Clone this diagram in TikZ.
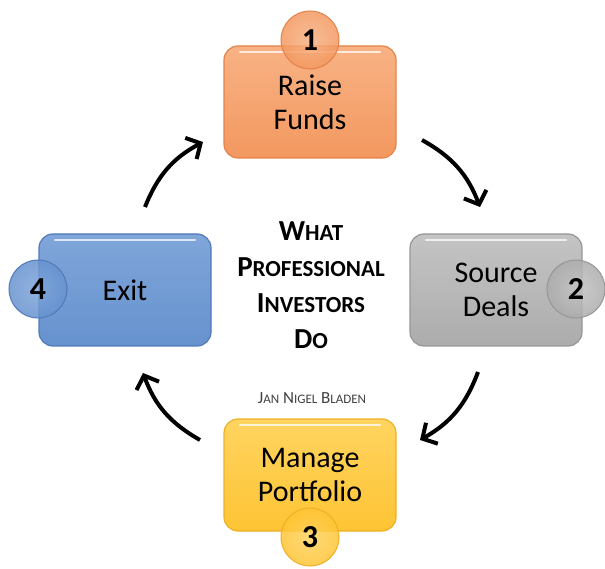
\documentclass[tikz,border=0pt]{standalone}
\usepackage{fontspec}
\setmainfont{Carlito}
\usetikzlibrary{arrows.meta}
\definecolor{orangebase}{RGB}{243,152,96}
\definecolor{orangelight}{RGB}{248,178,132}
\definecolor{orangedark}{RGB}{228,130,74}
\definecolor{graybase}{RGB}{172,172,172}
\definecolor{graylight}{RGB}{196,196,196}
\definecolor{graydark}{RGB}{150,150,150}
\definecolor{bluebase}{RGB}{102,146,206}
\definecolor{bluelight}{RGB}{128,166,218}
\definecolor{bluedark}{RGB}{80,122,184}
\definecolor{yellowbase}{RGB}{254,196,52}
\definecolor{yellowlight}{RGB}{255,212,96}
\definecolor{yellowdark}{RGB}{238,176,38}
\newcommand{\minicaps}[1]{{\fontsize{23}{23}\selectfont #1}}
\newcommand{\authcaps}[1]{{\fontsize{13}{13}\selectfont #1}}
\begin{document}
\begin{tikzpicture}[x=1pt,y=1pt]
        \tikzstyle{step box}=[rounded corners=14pt,line width=1.2pt,minimum width=172pt,minimum height=112pt,
          align=center,font=\fontsize{30}{34}\selectfont,
          path picture={\draw[white,opacity=.75,line width=2.5pt,line cap=round]
            ([xshift=16pt,yshift=-6pt]path picture bounding box.north west) --
            ([xshift=-16pt,yshift=-6pt]path picture bounding box.north east);}]
        \tikzstyle{badge}=[circle,line width=1pt,minimum size=58pt,fill opacity=.85,text opacity=1,
          font=\bfseries\fontsize{32}{32}\selectfont]
        \tikzstyle{cycle}=[line width=4pt,-{Straight Barb[length=11pt,width=24pt]}]
        \useasboundingbox (0,0) rectangle (605,568);
        % the four steps
        \node [step box,draw=orangedark,top color=orangelight,bottom color=orangebase] (raise) at (310,466) {Raise\\Funds};
        \node [step box,draw=graydark,top color=graylight,bottom color=graybase] (source) at (496,278) {Source\\Deals};
        \node [step box,draw=yellowdark,top color=yellowlight,bottom color=yellowbase] (manage) at (310,93) {Manage\\Portfolio};
        \node [step box,draw=bluedark,top color=bluelight,bottom color=bluebase] (exit) at (125,278) {Exit};
        % numbered badges
        \node [badge,draw=orangedark,inner color=orangelight,outer color=orangebase] (b1) at (310,528) {1};
        \node [badge,draw=graydark,inner color=graylight,outer color=graybase] (b2) at (576,279) {2};
        \node [badge,draw=yellowdark,inner color=yellowlight,outer color=yellowbase] (b3) at (310,31) {3};
        \node [badge,draw=bluedark,inner color=bluelight,outer color=bluebase] (b4) at (38,279) {4};
        % title and author
        \node [align=center,font=\bfseries\fontsize{29}{36}\selectfont] (title) at (311,283)
          {W\minicaps{HAT}\\P\minicaps{ROFESSIONAL}\\I\minicaps{NVESTORS}\\D\minicaps{O}};
        \node [font=\fontsize{17}{17}\selectfont,text=black!75] (author) at (312,170)
          {J\authcaps{AN} N\authcaps{IGEL} B\authcaps{LADEN}};
        % arrows between the steps
        \coordinate (a1s) at (145,361);
        \coordinate (a1e) at (203,426);
        \coordinate (a2s) at (422,428);
        \coordinate (a2e) at (480,361);
        \coordinate (a3s) at (478,196);
        \coordinate (a3e) at (420,128);
        \coordinate (a4s) at (200,128);
        \coordinate (a4e) at (143,195);
        \draw[cycle] (a1s) to [bend left=20] (a1e);
        \draw[cycle] (a2s) to [bend left=20] (a2e);
        \draw[cycle] (a3s) to [bend left=20] (a3e);
        \draw[cycle] (a4s) to [bend left=20] (a4e);
\end{tikzpicture}
\end{document}
